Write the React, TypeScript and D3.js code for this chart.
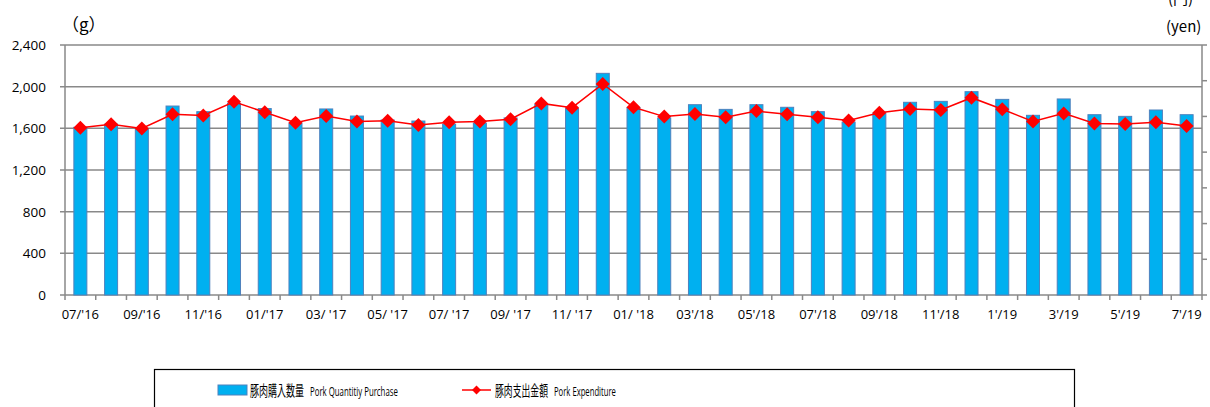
import React, { useRef, useEffect } from "react";
import * as d3 from "d3";

const months = [
  "07/'16", "08/'16", "09/'16", "10/'16", "11/'16", "12/'16",
  "01/'17", "02/'17", "03/ '17", "04/'17", "05/ '17", "06/'17",
  "07/ '17", "08/'17", "09/ '17", "10/'17", "11/ '17", "12/'17",
  "01/ '18", "02/'18", "03'/18", "04'/18", "05'/18", "06'/18",
  "07'/18", "08'/18", "09'/18", "10'/18", "11'/18", "12'/18",
  "1'/19", "2'/19", "3'/19", "4'/19", "5'/19", "6'/19", "7'/19",
];

// grams (left axis)
const quantity = [
  1610, 1640, 1595, 1814, 1760, 1840, 1790, 1650, 1786, 1718, 1680, 1670,
  1640, 1650, 1700, 1830, 1790, 2128, 1800, 1700, 1827, 1782, 1827, 1802,
  1760, 1660, 1745, 1850, 1859, 1952, 1878, 1725, 1882, 1731, 1715, 1776, 1731,
];

// yen (right axis)
const expenditure = [
  937, 956, 933, 1012, 1005, 1082, 1023, 965, 1002, 971, 976, 952,
  967, 971, 984, 1073, 1049, 1182, 1051, 999, 1014, 995, 1030, 1012,
  995, 977, 1021, 1042, 1036, 1105, 1040, 972, 1017, 961, 958, 967, 946,
];

const leftTicks = [0, 400, 800, 1200, 1600, 2000, 2400];
const rightTicks = [0, 200, 400, 600, 800, 1000, 1200, 1400];

const W = 1210;
const H = 407;

export default function App() {
  const ref = useRef<SVGSVGElement>(null);

  useEffect(() => {
    const svg = d3.select(ref.current);
    svg.selectAll("*").remove();

    const margin = { top: 45, right: 8, bottom: 112, left: 65 };
    const x0 = margin.left;
    const x1 = W - margin.right;
    const yTop = margin.top;
    const yBot = H - margin.bottom;
    const font = "'Open Sans', 'Noto Sans', sans-serif";
    const cjk = "'Noto Sans CJK JP', sans-serif";
    const grid = "#898989";

    const x = d3.scaleBand<number>().domain(d3.range(months.length)).range([x0, x1]).padding(0);
    const y = d3.scaleLinear().domain([0, 2400]).range([yBot, yTop]);
    const y2 = d3.scaleLinear().domain([0, 1400]).range([yBot, yTop]);

    // gridlines + left ticks
    svg.append("g")
      .selectAll("line")
      .data(leftTicks)
      .join("line")
      .attr("x1", x0 - 5)
      .attr("x2", x1)
      .attr("y1", d => y(d))
      .attr("y2", d => y(d))
      .attr("stroke", grid)
      .attr("stroke-width", 1.5);

    svg.append("g")
      .selectAll("text")
      .data(leftTicks)
      .join("text")
      .attr("x", 46)
      .attr("y", d => y(d) + 5)
      .attr("text-anchor", "end")
      .attr("font-family", font)
      .attr("font-size", 13.5)
      .attr("fill", "#000")
      .text(d => d3.format(",")(d));

    // left axis line
    svg.append("line")
      .attr("x1", x0).attr("x2", x0)
      .attr("y1", yTop).attr("y2", yBot)
      .attr("stroke", grid).attr("stroke-width", 1.5);

    // right axis line + ticks (labels are cut off in the original)
    svg.append("line")
      .attr("x1", x1).attr("x2", x1)
      .attr("y1", yTop).attr("y2", yBot)
      .attr("stroke", grid).attr("stroke-width", 1.5);
    svg.append("g")
      .selectAll("line")
      .data(rightTicks)
      .join("line")
      .attr("x1", x1)
      .attr("x2", x1 + 5)
      .attr("y1", d => y2(d))
      .attr("y2", d => y2(d))
      .attr("stroke", grid)
      .attr("stroke-width", 1.5);

    // x ticks at band edges
    const edges = d3.range(months.length + 1).map(i => x0 + i * x.step());
    svg.append("g")
      .selectAll("line")
      .data(edges)
      .join("line")
      .attr("x1", d => d).attr("x2", d => d)
      .attr("y1", yBot).attr("y2", yBot + 5)
      .attr("stroke", grid).attr("stroke-width", 1.5);

    svg.append("g")
      .selectAll("text")
      .data(months.map((m, i) => ({ m, i })).filter(d => d.i % 2 === 0))
      .join("text")
      .attr("x", d => x(d.i)! + x.bandwidth() / 2)
      .attr("y", yBot + 24)
      .attr("text-anchor", "middle")
      .attr("font-family", font)
      .attr("font-size", 13)
      .attr("fill", "#000")
      .text(d => d.m);

    // bars
    const bw = 13;
    svg.append("g")
      .selectAll("rect")
      .data(quantity)
      .join("rect")
      .attr("x", (d, i) => x(i)! + x.bandwidth() / 2 - bw / 2)
      .attr("y", d => y(d))
      .attr("width", bw)
      .attr("height", d => yBot - y(d))
      .attr("fill", "#00b0f0")
      .attr("stroke", "#4f81bd")
      .attr("stroke-width", 1);

    // line
    const line = d3.line<number>()
      .x((d, i) => x(i)! + x.bandwidth() / 2)
      .y(d => y2(d));
    svg.append("path")
      .datum(expenditure)
      .attr("d", line)
      .attr("fill", "none")
      .attr("stroke", "#ff0000")
      .attr("stroke-width", 1.5);

    const diamond = (cx: number, cy: number, r: number) =>
      `M${cx},${cy - r}L${cx + r},${cy}L${cx},${cy + r}L${cx - r},${cy}Z`;
    svg.append("g")
      .selectAll("path")
      .data(expenditure)
      .join("path")
      .attr("d", (d, i) => diamond(x(i)! + x.bandwidth() / 2, y2(d), 7))
      .attr("fill", "#ff0000");

    // axis unit labels
    svg.append("text")
      .attr("x", 62).attr("y", 31)
      .attr("font-family", cjk)
      .attr("font-size", 17)
      .text("（g）");
    svg.append("text")
      .attr("x", 1168).attr("y", 4)
      .attr("font-family", cjk)
      .attr("font-size", 15)
      .text("(円)");
    svg.append("text")
      .attr("x", 1166).attr("y", 32)
      .attr("font-family", cjk)
      .attr("font-size", 15)
      .text("(yen)");

    // legend
    svg.append("rect")
      .attr("x", 154.5).attr("y", 369.5)
      .attr("width", 920).attr("height", 45)
      .attr("fill", "none")
      .attr("stroke", "#000").attr("stroke-width", 1.2);

    const lg = svg.append("g");
    // condensed text: measure, then squeeze horizontally to the target width
    const squeezed = (tx: number, ty: number, str: string, fam: string, size: number, width: number) => {
      const t = lg.append("text")
        .attr("font-family", fam)
        .attr("font-size", size)
        .attr("fill", "#000")
        .text(str);
      const w = (t.node() as SVGTextElement).getComputedTextLength() || width;
      t.attr("transform", `translate(${tx},${ty}) scale(${width / w},1)`);
    };

    lg.append("rect")
      .attr("x", 218).attr("y", 385)
      .attr("width", 29).attr("height", 10)
      .attr("fill", "#00b0f0").attr("stroke", "#4f81bd");
    squeezed(250, 396, "豚肉購入数量", cjk, 14.5, 54);
    squeezed(310, 395.5, "Pork Quantitiy Purchase", font, 13.5, 88);

    lg.append("line")
      .attr("x1", 462).attr("x2", 491)
      .attr("y1", 390).attr("y2", 390)
      .attr("stroke", "#ff0000").attr("stroke-width", 1.5);
    lg.append("path")
      .attr("d", diamond(476.5, 390, 4.5))
      .attr("fill", "#ff0000");
    squeezed(495, 396, "豚肉支出金額", cjk, 14.5, 53);
    squeezed(554, 395.5, "Pork Expenditure", font, 13.5, 62);
  }, []);

  return (
    <svg
      ref={ref}
      width={W}
      height={H}
      style={{ position: "absolute", left: 0, top: 0, background: "#fff" }}
    />
  );
}
